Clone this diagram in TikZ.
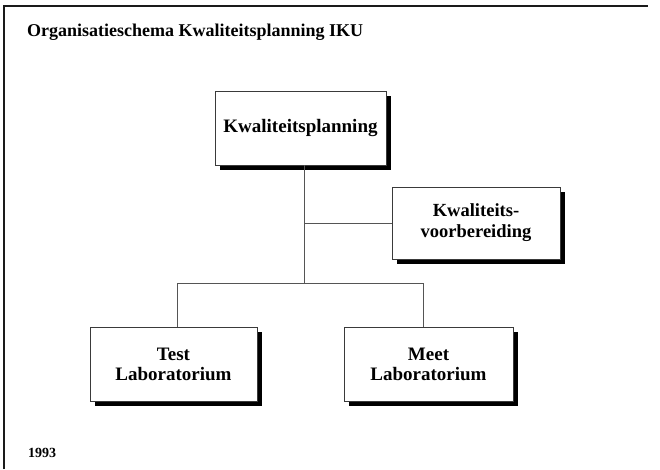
\documentclass[tikz,border=0pt]{standalone}
\usepackage{fontspec}
\setmainfont{Liberation Serif}
\usepackage{xcolor}
\usetikzlibrary{shadows}
\definecolor{color_frame}{HTML}{1a1a1a}
\definecolor{color_line}{HTML}{555555}
\definecolor{color_box}{HTML}{3a3a3a}

\tikzset{
	orgbox/.style={draw=color_box, line width=0.8pt, fill=white,
		minimum width=169, minimum height=74, inner sep=0, align=center,
		font=\fontsize{19}{20}\selectfont\bfseries,
		general shadow={fill=black, shadow xshift=5pt, shadow yshift=-5pt}},
	orgline/.style={color_line, line width=0.8pt},
}

\begin{document}
\begin{tikzpicture}[x=1pt,y=-1pt]
	\useasboundingbox (0, 0) rectangle (660, 469);
	% Frame
	\draw[color_frame, line width=1.5pt] (4, 469) -- (4, 6) -- (648, 6);

	% Title and year
	\node[anchor=base west, inner sep=0, font=\fontsize{18}{20}\selectfont\bfseries]
		(title) at (27, 36) {Organisatieschema Kwaliteitsplanning IKU};
	\node[anchor=base west, inner sep=0, font=\fontsize{14}{16}\selectfont\bfseries]
		(year) at (28, 457) {1993};

	% Boxes
	\node[orgbox, minimum width=171] (kp) at (300.5, 128) {Kwaliteitsplanning};
	\node[orgbox, minimum width=168, minimum height=72,
		font=\fontsize{18.5}{21}\selectfont\bfseries]
		(kv) at (476, 223) {Kwaliteits-\\voorbereiding};
	\node[orgbox, minimum width=167] (test) at (173.5, 364) {Test\\Laboratorium};
	\node[orgbox] (meet) at (428.5, 364) {Meet\\Laboratorium};

	% Points
	\coordinate (trunk) at (304, 283);
	\coordinate (hub) at (trunk |- kv.west);
	\coordinate (tbranch) at (177, 283);
	\coordinate (mbranch) at (423, 283);

	% Connectors
	\draw[orgline] (kp.south -| trunk) -- (trunk);
	\draw[orgline] (hub) -- (kv.west);
	\draw[orgline]
		(test.north -| tbranch) --
		(tbranch) --
		(mbranch) --
		(meet.north -| mbranch)
		;
\end{tikzpicture}
\end{document}
